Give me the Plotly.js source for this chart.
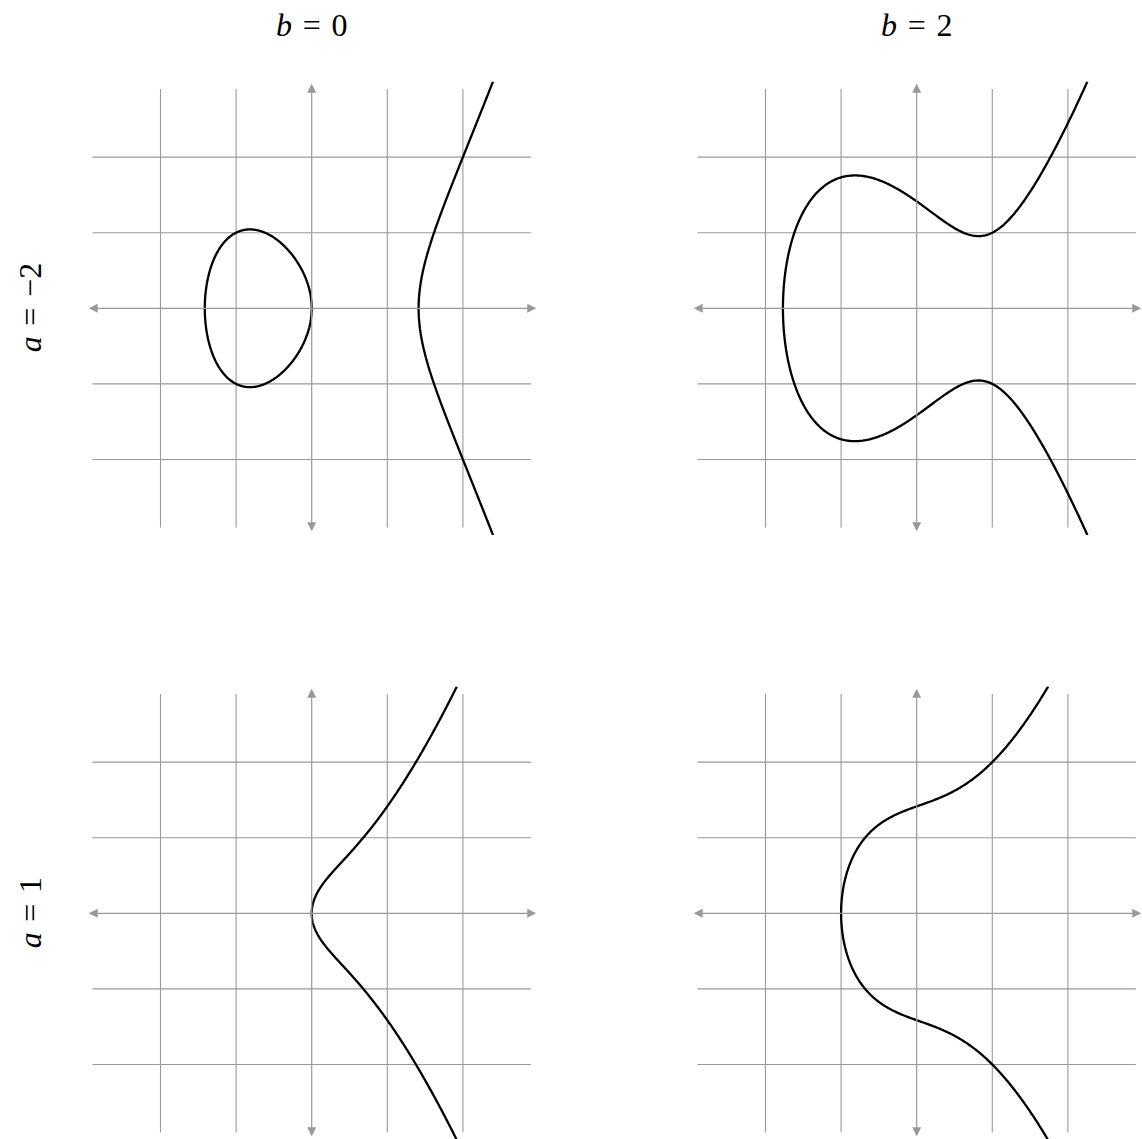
<!DOCTYPE html>
<html>
<head>
<meta charset="utf-8">
<script src="https://cdn.plot.ly/plotly-3.0.1.min.js"></script>
<style>
  html, body { margin: 0; padding: 0; background: #fff; }
  #plot { width: 1142px; height: 1139px; }
</style>
</head>
<body>
<div id="plot"></div>
<script>
// y^2 = x^3 + a x + b, one row per a, one column per b
var aValues = [-2, 1];
var bValues = [0, 2];
var rowLabels = ['<i>a</i>\u2004=\u2004\u22122', '<i>a</i>\u2004=\u20041'];
var colLabels = ['<i>b</i>\u2004=\u20040', '<i>b</i>\u2004=\u20042'];
var gridTicks = [-2, -1, 1, 2];
var gridExtent = 2.9;
var axisExtent = 2.97;
var yLimit = 3;

var W = 1142, H = 1139;
var pxPerUnit = 75.6;
var colCenters = [311.7, 916.7];
var rowCenters = [308.3, 913.3];

var gray = '#999999';

function f(x, a, b) {
  return x * x * x + a * x + b;
}

function bisect(g, lo, hi) {
  var glo = g(lo);
  for (var k = 0; k < 80; k++) {
    var mid = (lo + hi) / 2;
    var gm = g(mid);
    if ((gm < 0) === (glo < 0)) { lo = mid; glo = gm; } else { hi = mid; }
  }
  return (lo + hi) / 2;
}

function findRoots(a, b) {
  var roots = [];
  var steps = 800;
  var prevX = -4, prevNeg = f(prevX, a, b) < 0;
  for (var i = 1; i <= steps; i++) {
    var x = -4 + 8 * i / steps;
    var neg = f(x, a, b) < 0;
    if (neg !== prevNeg) {
      roots.push(bisect(function (t) { return f(t, a, b); }, prevX, x));
    }
    prevX = x; prevNeg = neg;
  }
  return roots;
}

function curveTrace(a, b, xa, ya) {
  var roots = findRoots(a, b);
  var xs = [], ys = [];
  var n = 400;
  // bounded oval between the first two roots
  if (roots.length === 3) {
    var p = roots[0], q = roots[1];
    var up = [];
    for (var i = 0; i <= n; i++) {
      var x = p + (q - p) * (1 - Math.cos(Math.PI * i / n)) / 2;
      up.push([x, Math.sqrt(Math.max(f(x, a, b), 0))]);
    }
    up.forEach(function (pt) { xs.push(pt[0]); ys.push(pt[1]); });
    for (var j = up.length - 1; j >= 0; j--) { xs.push(up[j][0]); ys.push(-up[j][1]); }
    xs.push(null); ys.push(null);
  }
  // unbounded branch from the largest root up to |y| = yLimit
  var r0 = roots[roots.length - 1];
  var xmax = bisect(function (x) { return f(x, a, b) - yLimit * yLimit; }, r0, 4);
  var br = [];
  for (var k = 0; k <= n; k++) {
    var xb = r0 + (xmax - r0) * (1 - Math.cos(Math.PI * k / n / 2));
    br.push([xb, Math.sqrt(Math.max(f(xb, a, b), 0))]);
  }
  for (var m = br.length - 1; m >= 0; m--) { xs.push(br[m][0]); ys.push(-br[m][1]); }
  br.forEach(function (pt) { xs.push(pt[0]); ys.push(pt[1]); });

  return {
    x: xs, y: ys, xaxis: xa, yaxis: ya,
    type: 'scatter', mode: 'lines',
    line: { color: '#000', width: 2.3, simplify: false },
    hoverinfo: 'skip', showlegend: false
  };
}

function gridTrace(xa, ya) {
  var xs = [], ys = [];
  gridTicks.forEach(function (t) {
    xs.push(t, t, null); ys.push(-gridExtent, gridExtent, null);
    xs.push(-gridExtent, gridExtent, null); ys.push(t, t, null);
  });
  return {
    x: xs, y: ys, xaxis: xa, yaxis: ya,
    type: 'scatter', mode: 'lines',
    line: { color: gray, width: 1.1 },
    hoverinfo: 'skip', showlegend: false
  };
}

function axisArrow(x0, y0, x1, y1, xr, yr) {
  return {
    x: x1, y: y1, ax: x0, ay: y0,
    xref: xr, yref: yr, axref: xr, ayref: yr,
    text: '', showarrow: true, arrowside: 'end+start',
    arrowhead: 2, arrowsize: 1.5, arrowwidth: 1.2, arrowcolor: gray
  };
}

var traces = [];
var layout = {
  width: W, height: H,
  margin: { l: 0, r: 0, t: 0, b: 0 },
  paper_bgcolor: '#fff', plot_bgcolor: 'rgba(0,0,0,0)',
  showlegend: false,
  annotations: []
};

var idx = 0;
for (var row = 0; row < aValues.length; row++) {
  for (var col = 0; col < bValues.length; col++) {
    idx++;
    var xa = idx === 1 ? 'x' : 'x' + idx;
    var ya = idx === 1 ? 'y' : 'y' + idx;
    var xKey = idx === 1 ? 'xaxis' : 'xaxis' + idx;
    var yKey = idx === 1 ? 'yaxis' : 'yaxis' + idx;

    var cx = colCenters[col], cy = rowCenters[row];
    var dx0 = Math.max(0, (cx - 3 * pxPerUnit) / W);
    var dx1 = Math.min(1, (cx + 3 * pxPerUnit) / W);
    var topPx = Math.max(0, cy - 3 * pxPerUnit);
    var botPx = Math.min(H, cy + 3 * pxPerUnit);

    var common = {
      showgrid: false, zeroline: false, showticklabels: false,
      ticks: '', showline: false, fixedrange: true
    };
    layout[xKey] = Object.assign({}, common, {
      domain: [dx0, dx1],
      range: [(dx0 * W - cx) / pxPerUnit, (dx1 * W - cx) / pxPerUnit],
      anchor: ya
    });
    layout[yKey] = Object.assign({}, common, {
      domain: [1 - botPx / H, 1 - topPx / H],
      range: [(cy - botPx) / pxPerUnit, (cy - topPx) / pxPerUnit],
      anchor: xa
    });

    traces.push(gridTrace(xa, ya));
    traces.push(curveTrace(aValues[row], bValues[col], xa, ya));

    layout.annotations.push(axisArrow(-axisExtent, 0, axisExtent, 0, xa, ya));
    layout.annotations.push(axisArrow(0, -axisExtent, 0, axisExtent, xa, ya));
  }
}

var labelFont = { family: 'Liberation Serif', size: 32, color: '#000' };
colLabels.forEach(function (txt, c) {
  layout.annotations.push({
    text: txt, xref: 'paper', yref: 'paper',
    x: colCenters[c] / W, y: 1 - 25 / H,
    xanchor: 'center', yanchor: 'middle', showarrow: false, font: labelFont
  });
});
rowLabels.forEach(function (txt, r) {
  layout.annotations.push({
    text: txt, xref: 'paper', yref: 'paper',
    x: 30 / W, y: 1 - rowCenters[r] / H,
    xanchor: 'center', yanchor: 'middle', textangle: -90,
    showarrow: false, font: labelFont
  });
});

Plotly.newPlot('plot', traces, layout, { staticPlot: true });
</script>
</body>
</html>
